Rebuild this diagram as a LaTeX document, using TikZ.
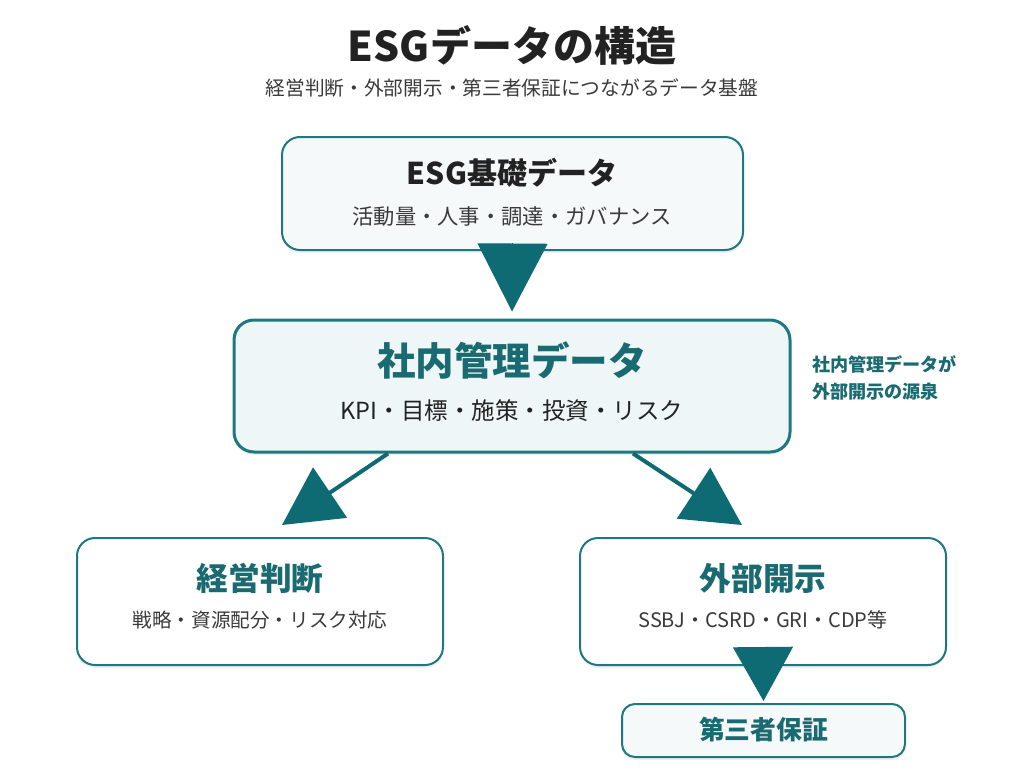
\documentclass[tikz,border=0pt]{standalone}
\usepackage{fontspec}
\setmainfont{Noto Sans CJK JP}
\usetikzlibrary{arrows.meta,shadows}
\definecolor{teal1}{HTML}{0E6B73}
\definecolor{tealtxt}{HTML}{1A6A71}
\definecolor{border}{HTML}{1E7880}
\definecolor{dark}{HTML}{222222}
\definecolor{mid}{HTML}{3A3A3A}
\definecolor{fillA}{HTML}{F5F9FA}
\definecolor{fillB}{HTML}{EEF6F7}
\tikzset{
  box/.style={draw=border, line width=2pt, rectangle, rounded corners=18pt, inner sep=0pt,
    drop shadow={opacity=0.12, shadow xshift=0pt, shadow yshift=-3pt}},
  ttl/.style={font=\fontsize{#1}{#1}\selectfont\bfseries, inner sep=0pt},
  sub/.style={font=\fontsize{#1}{#1}\selectfont, text=mid, inner sep=0pt},
  bigarrow/.style={draw=teal1, fill=teal1, line width=4pt},
}
\begin{document}
\begin{tikzpicture}[x=1pt,y=-1pt]
\useasboundingbox[fill=white] (0,0) rectangle (1024,768);
% title
\node[ttl=41, text=dark] (title) at (512,45) {ESGデータの構造};
\node[sub=19.7, text=mid] (subtitle) at (512,88) {経営判断・外部開示・第三者保証につながるデータ基盤};
% boxes
\node[box, fill=fillA, minimum width=461pt, minimum height=113pt] (b1) at (512.5,193.5) {};
\node[box, fill=fillB, line width=3pt, rounded corners=20pt, minimum width=556pt, minimum height=132pt] (b2) at (512,386) {};
\node[box, fill=white, minimum width=366pt, minimum height=127pt] (b3) at (260,601.5) {};
\node[box, fill=white, minimum width=366pt, minimum height=127pt] (b4) at (763,601.5) {};
\node[box, fill=fillA, rounded corners=13pt, minimum width=283pt, minimum height=53pt] (b5) at (763.5,730.5) {};
% texts
\node[ttl=30, text=dark] (t1) at (512,173) {ESG基礎データ};
\node[sub=21.3] (s1) at (512,216) {活動量・人事・調達・ガバナンス};
\node[ttl=38.5, text=tealtxt] (t2) at (512,360) {社内管理データ};
\node[sub=23.5, text=dark] (s2) at (512,411) {KPI・目標・施策・投資・リスク};
\node[ttl=31.7, text=tealtxt] (t3) at (260,578) {経営判断};
\node[sub=19.6] (s3) at (260,620) {戦略・資源配分・リスク対応};
\node[ttl=31.7, text=tealtxt] (t4) at (763,578) {外部開示};
\node[sub=20] (s4) at (763,620) {SSBJ・CSRD・GRI・CDP等};
\node[ttl=25.8, text=tealtxt] (t5) at (763.5,730) {第三者保証};
\node[text=tealtxt, align=left, anchor=north west, inner sep=0pt, font=\fontsize{18.1}{27.5}\selectfont\bfseries] (note) at (812,355) {社内管理データが\\外部開示の源泉};
% arrows
\draw[bigarrow, line width=1pt, -{Triangle[length=68pt,width=70pt]}] ([yshift=8pt]b1.south) -- ([yshift=7pt]b2.north);
\draw[bigarrow, -{Triangle[length=58pt,width=60pt]}] ([xshift=-124pt]b2.south) -- ([xshift=22pt,yshift=12pt]b3.north);
\draw[bigarrow, -{Triangle[length=58pt,width=60pt]}] ([xshift=121pt]b2.south) -- ([xshift=-21pt,yshift=12pt]b4.north);
\draw[bigarrow, line width=1pt, -{Triangle[length=54pt,width=60pt]}] ([yshift=18pt]b4.south) -- ([yshift=2pt]b5.north);
\end{tikzpicture}
\end{document}
